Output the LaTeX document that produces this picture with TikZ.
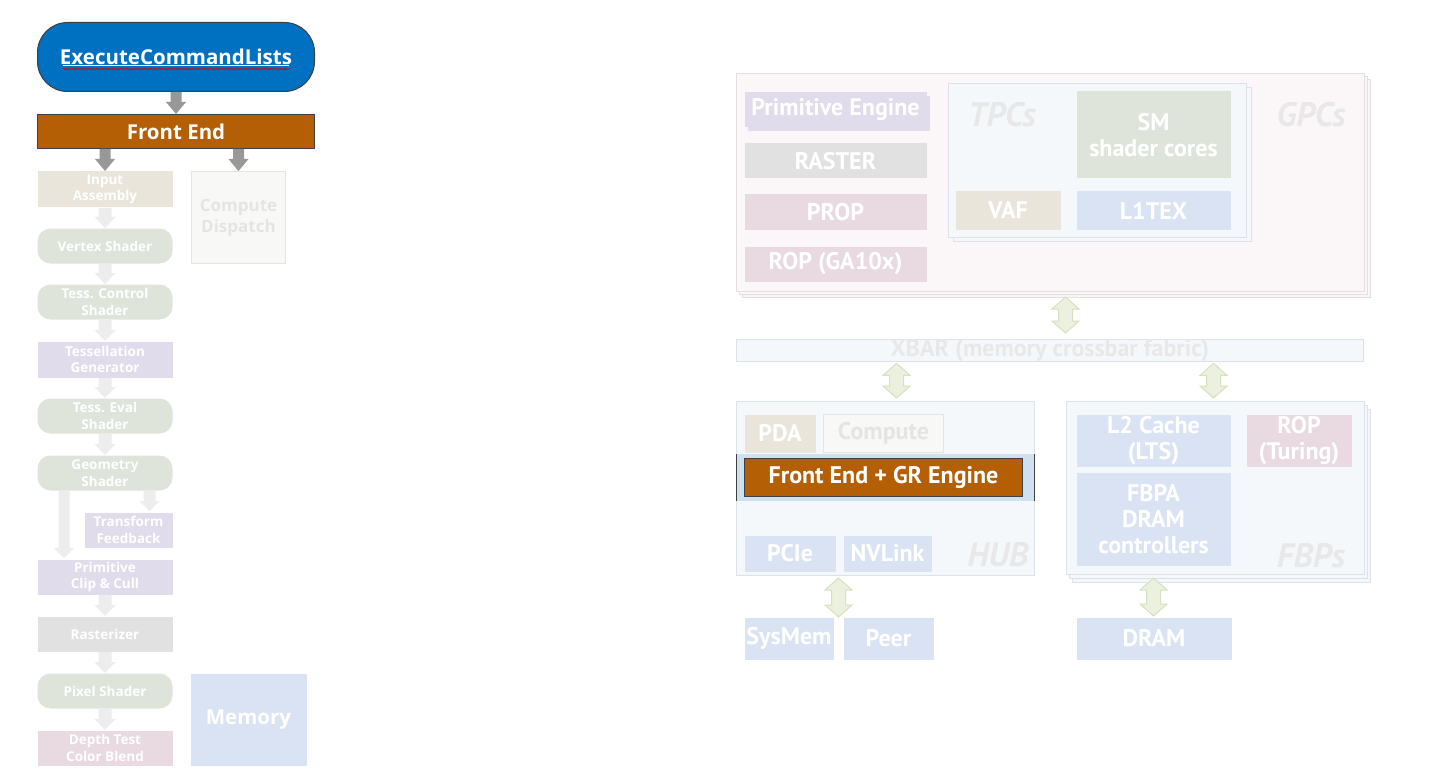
\documentclass[tikz,border=0pt]{standalone}
\usepackage{fontspec}
\setmainfont{PT Sans}
\newfontfamily\osans{Open Sans}
\usetikzlibrary{calc,decorations.pathmorphing}
\definecolor{cmdblue}{HTML}{0070C0}
\definecolor{febrown}{HTML}{B45F06}
\definecolor{edgedark}{HTML}{404040}
\definecolor{beige}{HTML}{EAE5DB}
\definecolor{sage}{HTML}{DEE4DA}
\definecolor{lav}{HTML}{E0DCEB}
\definecolor{lgray}{HTML}{E1E1E1}
\definecolor{pinkish}{HTML}{E8DAE0}
\definecolor{lblue}{HTML}{DAE3F3}
\definecolor{gpcfill}{HTML}{FBF7F8}
\definecolor{gpcedge}{HTML}{E3DEE0}
\definecolor{panefill}{HTML}{F5F8FB}
\definecolor{paneedge}{HTML}{DCE2EA}
\definecolor{bandblue}{HTML}{CFE0F1}
\definecolor{ghostfill}{HTML}{F8F9F7}
\definecolor{ghostedge}{HTML}{E4E5E3}
\definecolor{ghosttext}{HTML}{E4E4E4}
\definecolor{labelgray}{HTML}{E8E8E8}
\definecolor{arrgray}{HTML}{989898}
\definecolor{arrlight}{HTML}{EDEDED}
\definecolor{dblfill}{HTML}{EBF1DE}
\definecolor{dbledge}{HTML}{D5E2BC}
% block arrow pointing down: style, from, to, shaft half, head half, head length
\newcommand\mkdown[6]{\fill[#1] let \p1=(#2), \p2=(#3) in
  (\x1-#4,\y1) -- (\x1+#4,\y1) -- (\x1+#4,\y2+#6) -- (\x1+#5,\y2+#6) -- (\x1,\y2)
  -- (\x1-#5,\y2+#6) -- (\x1-#4,\y2+#6) -- cycle;}
% vertical double arrow between two points
\newcommand\mkdbl[2]{\path[dblarr] let \p1=(#1), \p2=(#2) in
  (\x1,\y1) -- (\x1+13.5pt,\y1-12pt) -- (\x1+7pt,\y1-12pt) -- (\x1+7pt,\y2+12pt)
  -- (\x1+13.5pt,\y2+12pt) -- (\x1,\y2) -- (\x1-13.5pt,\y2+12pt) -- (\x1-7pt,\y2+12pt)
  -- (\x1-7pt,\y1-12pt) -- (\x1-13.5pt,\y1-12pt) -- cycle;}
\begin{document}
\begin{tikzpicture}[x=1pt,y=-1pt,
  bb/.style n args={4}{at={(#1,#2)}, anchor=north west, minimum width={#3-#1}, minimum height={#4-#2}},
  box/.style={inner sep=0pt, align=center, text=white, line width=1pt},
  lsmall/.style={font=\osans\bfseries\fontsize{13.5}{16.5}\selectfont},
  lbig/.style={font=\osans\bfseries\fontsize{20.5}{24}\selectfont},
  rtext/.style={font=\bfseries\fontsize{24}{26}\selectfont},
  lbl/.style={inner sep=0pt, text=labelgray, font=\bfseries\itshape\fontsize{34}{34}\selectfont},
  gpcbox/.style={box, fill=gpcfill, draw=gpcedge},
  panebox/.style={box, fill=panefill, draw=paneedge},
  ghost/.style={box, fill=ghostfill, draw=ghostedge, text=ghosttext},
  dblarr/.style={fill=dblfill, draw=dbledge, line width=1pt, line join=miter},
  rnd/.style={rounded corners=13pt}]
\useasboundingbox[fill=white] (0,0) rectangle (1429,778);

% ---------------- left pipeline ----------------
\node[box, lbig, bb={37}{22}{314}{91}, fill=cmdblue, draw=edgedark, rounded corners=30pt] (exec) {ExecuteCommandLists};
\draw[white, line width=1pt] ($(exec.center)+(-113,9)$) -- ($(exec.center)+(113,9)$);
\draw[red!85!black, line width=0.7pt, decorate, decoration={snake, amplitude=0.8pt, segment length=3pt}]
  ($(exec.center)+(-113,12)$) -- ($(exec.center)+(113,12)$);
\node[box, lbig, bb={37}{114}{314}{148}, fill=febrown, draw=edgedark] (fe) {Front End};

\node[box, lsmall, bb={37}{171}{172}{207}, fill=beige] (ia) {Input\\Assembly};
\node[ghost, font=\osans\bfseries\fontsize{17}{21}\selectfont, bb={191}{171}{285}{263}] (cd) {Compute\\Dispatch};
\node[box, lsmall, rnd, bb={37}{228}{172}{263}, fill=sage] (vs) {Vertex Shader};
\node[box, lsmall, rnd, bb={37}{284}{172}{319}, fill=sage] (tcs) {Tess. Control\\Shader};
\node[box, lsmall, bb={37}{341}{172}{377}, fill=lav] (tg) {Tessellation\\Generator};
\node[box, lsmall, rnd, bb={37}{398}{172}{433}, fill=sage] (tes) {Tess. Eval\\Shader};
\node[box, lsmall, rnd, bb={37}{455}{172}{490}, fill=sage] (gs) {Geometry\\Shader};
\node[box, lsmall, bb={84}{512}{172}{547}, fill=lav] (tf) {Transform\\Feedback};
\node[box, lsmall, bb={37}{559}{172}{594}, fill=lav] (pcc) {Primitive\\Clip \& Cull};
\node[box, lsmall, bb={37}{616}{172}{651}, fill=lgray] (rast) {Rasterizer};
\node[box, lsmall, rnd, bb={37}{673}{172}{708}, fill=sage] (ps) {Pixel Shader};
\node[box, lsmall, bb={37}{730}{172}{765}, fill=pinkish] (dt) {Depth Test\\Color Blend};
\node[box, font=\osans\bfseries\fontsize{20.5}{24}\selectfont, bb={190}{673}{306}{765}, fill=lblue] (mem) {Memory};

% gray arrows
\mkdown{arrgray}{exec.south}{fe.north}{5.5pt}{10pt}{12pt}
\mkdown{arrgray}{ia.north |- fe.south}{ia.north}{5.5pt}{10pt}{12pt}
\mkdown{arrgray}{cd.north |- fe.south}{cd.north}{5.5pt}{10pt}{12pt}
% light arrows
\mkdown{arrlight}{ia.south}{vs.north}{6.5pt}{10.5pt}{11pt}
\mkdown{arrlight}{vs.south}{tcs.north}{6.5pt}{10.5pt}{11pt}
\mkdown{arrlight}{tcs.south}{tg.north}{6.5pt}{10.5pt}{11pt}
\mkdown{arrlight}{tg.south}{tes.north}{6.5pt}{10.5pt}{11pt}
\mkdown{arrlight}{tes.south}{gs.north}{6.5pt}{10.5pt}{11pt}
\coordinate (tfin) at ($(tf.north)+(21,-1)$);
\coordinate (pcin) at ($(pcc.north)+(-41,-1)$);
\mkdown{arrlight}{tfin |- gs.south}{tfin}{6pt}{10pt}{10pt}
\mkdown{arrlight}{pcin |- gs.south}{pcin}{5.5pt}{10pt}{10pt}
\mkdown{arrlight}{pcc.south}{rast.north}{6.5pt}{10.5pt}{11pt}
\mkdown{arrlight}{rast.south}{ps.north}{6.5pt}{10.5pt}{11pt}
\mkdown{arrlight}{ps.south}{dt.north}{6.5pt}{10.5pt}{11pt}

% ---------------- right: GPCs ----------------
\node[gpcbox, bb={742}{79}{1370}{297}] (gpcB) {};
\node[gpcbox, bb={739}{76}{1367}{294}] (gpcA) {};
\node[gpcbox, bb={736}{73}{1364}{291}] (gpc) {};
\node[lbl] (gpclbl) at (1311,115) {GPCs};
\node[box, bb={747}{96}{929}{131}, fill=lav] (peS) {};
\node[box, rtext, bb={744}{92}{926}{127}, fill=lav] (pe) {Primitive Engine};
\node[box, rtext, bb={744}{143}{926}{178}, fill=lgray] (raster) {RASTER};
\node[box, rtext, bb={744}{194}{926}{229}, fill=pinkish] (prop) {PROP};
\node[box, rtext, bb={744}{246}{926}{281}, fill=pinkish] (ropga) {ROP (GA10x)};
\node[panebox, bb={953}{87}{1251}{241}] (tpcB) {};
\node[panebox, bb={948}{83}{1246}{237}] (tpc) {};
\node[lbl] (tpclbl) at (1002,115) {TPCs};
\node[box, rtext, bb={1076}{91}{1230}{178}, fill=sage] (sm) {SM\\shader cores};
\node[box, rtext, bb={955}{191}{1060}{229}, fill=beige] (vaf) {VAF};
\node[box, rtext, bb={1076}{191}{1230}{229}, fill=lblue] (l1tex) {L1TEX};

% ---------------- XBAR ----------------
\node[panebox, bb={736}{339}{1363}{360}, text=labelgray, font=\bfseries\fontsize{24}{24}\selectfont] (xbar) {XBAR (memory crossbar fabric)};

% ---------------- HUB ----------------
\node[panebox, bb={736}{401}{1034}{575}] (hub) {};
\node[lbl] (hublbl) at (998,555) {HUB};
\node[box, rtext, bb={744}{414}{815}{452}, fill=beige] (pda) {PDA};
\node[ghost, rtext, bb={823}{414}{943}{452}] (comp) {Compute};
\node[box, bb={736}{454}{1034}{501}, fill=bandblue, line width=0pt] (band) {};
\draw[edgedark, line width=1pt] (band.north west) -- (band.south west);
\draw[edgedark, line width=1pt] (band.north east) -- (band.south east);
\node[box, rtext, bb={744}{458}{1022}{496}, fill=febrown, draw=edgedark] (fegr) {Front End + GR Engine};
\node[box, rtext, bb={744}{535}{835}{571}, fill=lblue] (pcie) {PCIe};
\node[box, rtext, bb={843}{535}{931}{571}, fill=lblue] (nvl) {NVLink};

% ---------------- FBPs ----------------
\node[panebox, bb={1072}{409}{1370}{582}] (fbpB) {};
\node[panebox, bb={1069}{405}{1367}{578}] (fbpA) {};
\node[panebox, bb={1066}{401}{1364}{574}] (fbp) {};
\node[lbl] (fbplbl) at (1311,556) {FBPs};
\node[box, rtext, bb={1076}{414}{1230}{466}, fill=lblue] (l2) {L2 Cache\\(LTS)};
\node[box, rtext, bb={1246}{414}{1351}{466}, fill=pinkish] (ropt) {ROP\\(Turing)};
\node[box, rtext, bb={1076}{472}{1230}{565}, fill=lblue] (fbpa) {FBPA\\DRAM\\controllers};

% ---------------- external ----------------
\node[box, rtext, bb={744}{617}{833}{659}, fill=lblue] (sysmem) {SysMem};
\node[box, rtext, bb={843}{617}{933}{659}, fill=lblue] (peer) {Peer};
\node[box, rtext, bb={1076}{617}{1231}{659}, fill=lblue] (dram) {DRAM};

% ---------------- double arrows ----------------
\coordinate (g1t) at ($(gpc.south)+(15,5)$);
\coordinate (g1b) at ($(g1t |- xbar.north)+(0,-6)$);
\mkdbl{g1t}{g1b}
\coordinate (h1b) at ($(hub.north)+(11,-3)$);
\coordinate (h1t) at ($(h1b |- xbar.south)+(0,1)$);
\mkdbl{h1t}{h1b}
\coordinate (f1b) at ($(fbp.north)+(-2,-3)$);
\coordinate (f1t) at ($(f1b |- xbar.south)+(0,1)$);
\mkdbl{f1t}{f1b}
\coordinate (s1t) at ($(hub.south)+(-47,2)$);
\coordinate (s1b) at ($(s1t |- sysmem.north)$);
\mkdbl{s1t}{s1b}
\coordinate (d1t) at ($(fbp.south)+(-62,3)$);
\coordinate (d1b) at ($(d1t |- dram.north)+(0,-1)$);
\mkdbl{d1t}{d1b}
\end{tikzpicture}
\end{document}
